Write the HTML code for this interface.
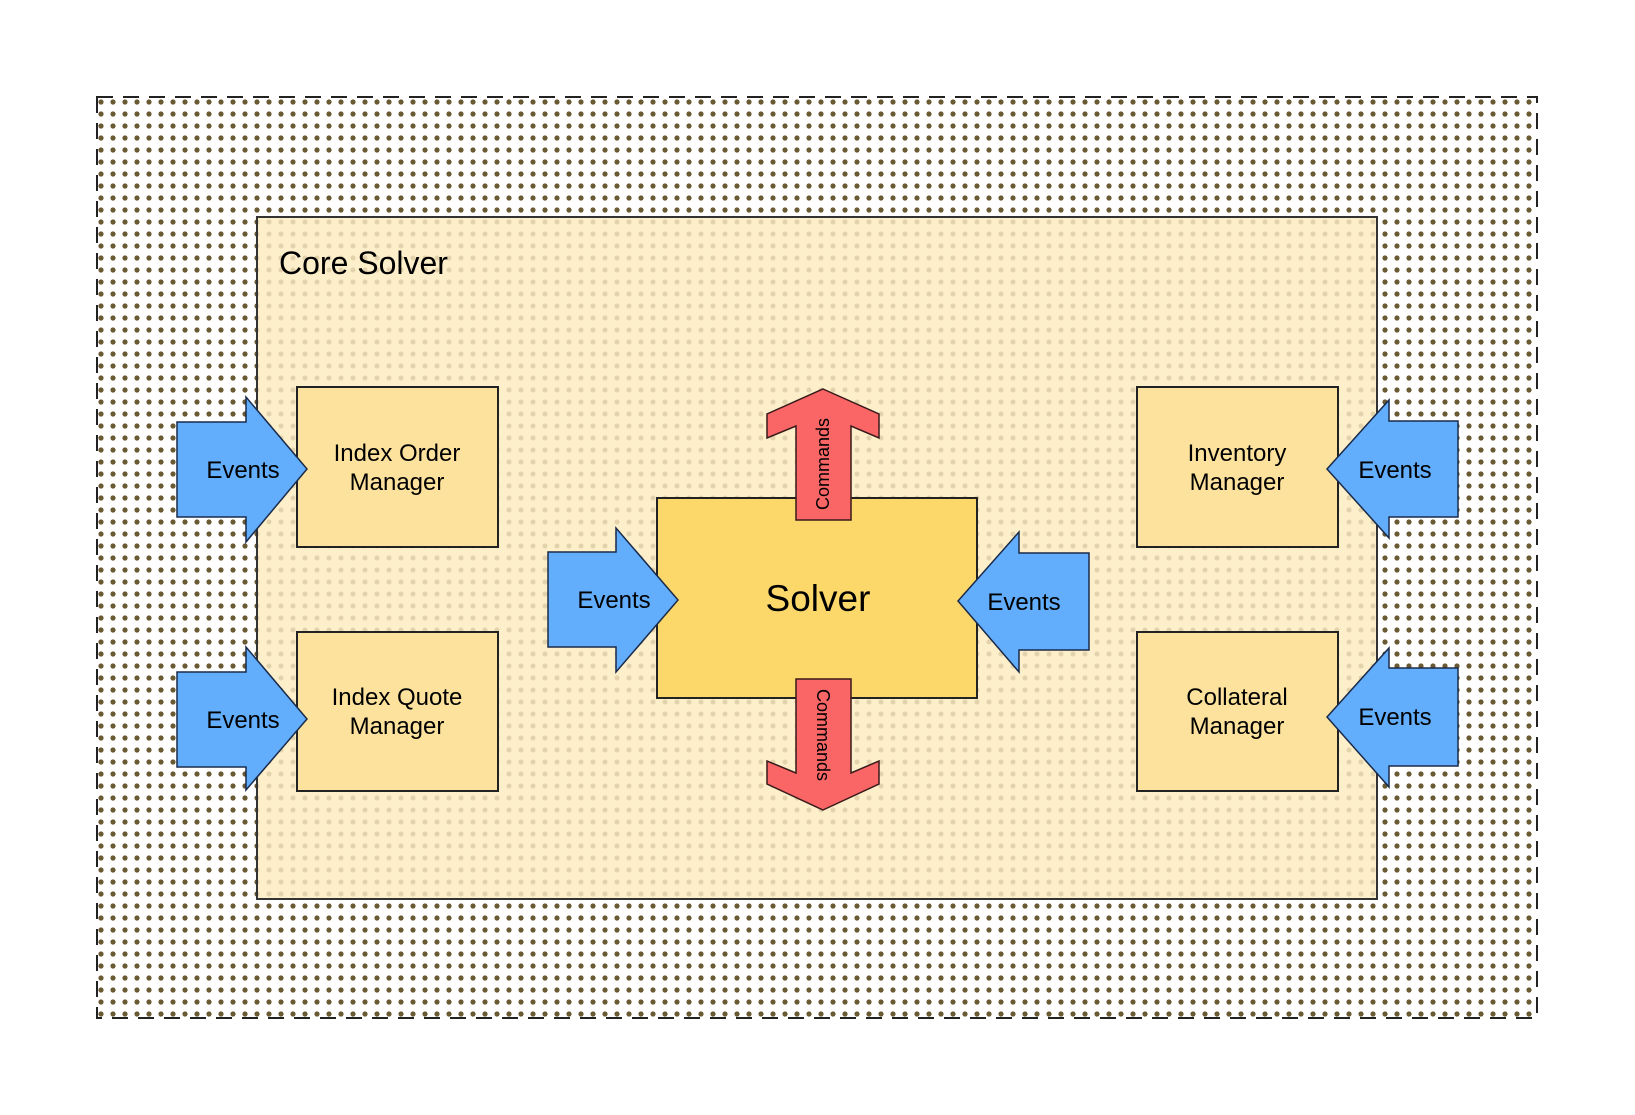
<!DOCTYPE html>
<html><head><meta charset="utf-8"><style>html,body{margin:0;padding:0;background:#fff}svg{display:block}text{font-family:"Liberation Sans",sans-serif;fill:#000}</style></head>
<body>
<svg width="1635" height="1115" viewBox="0 0 1635 1115" xmlns="http://www.w3.org/2000/svg">
<defs>
<pattern id="od" x="95" y="96" width="12" height="12" patternUnits="userSpaceOnUse"><rect width="12" height="12" fill="#fff"/><circle cx="6" cy="6" r="2.6" fill="#6a5933"/></pattern>
<pattern id="id" x="95" y="96" width="12" height="12" patternUnits="userSpaceOnUse"><rect width="12" height="12" fill="#fdefca"/><circle cx="6" cy="6" r="2.5" fill="#e2d3ac"/></pattern>
</defs>
<rect x="97" y="97" width="1440" height="921" fill="url(#od)" stroke="#222" stroke-width="2" stroke-dasharray="16,10"/>
<rect x="257" y="217" width="1120" height="682" fill="url(#id)" stroke="#333" stroke-width="2"/>
<text x="279" y="274" font-size="32">Core Solver</text>

<g stroke="#222" stroke-width="2">
<rect x="297" y="387" width="201" height="160" fill="#fce29c"/>
<rect x="297" y="632" width="201" height="159" fill="#fce29c"/>
<rect x="1137" y="387" width="201" height="160" fill="#fce29c"/>
<rect x="1137" y="632" width="201" height="159" fill="#fce29c"/>
<rect x="657" y="498" width="320" height="200" fill="#fcd76a"/>
</g>
<g stroke="#1a2a4a" stroke-width="1.5" fill="#62aefc">
<polygon points="177,422 246,422 246,397 307,469 246,542 246,517 177,517"/>
<polygon points="177,672 246,672 246,647 307,719 246,790 246,767 177,767"/>
<polygon points="548,552 616,552 616,528 678,600 616,672 616,647 548,647"/>
<polygon points="1089,553 1019,553 1019,532 958,601 1019,672 1019,650 1089,650"/>
<polygon points="1458,421 1389,421 1389,400 1327,469 1389,538 1389,517 1458,517"/>
<polygon points="1458,668 1389,668 1389,648 1327,717 1389,787 1389,766 1458,766"/>
</g>
<g stroke="#3a1a1a" stroke-width="1.5" fill="#fa6666">
<polygon points="823,389 879,414 879,438 851,426 851,520 796,520 796,426 767,438 767,414"/>
<polygon points="823,810 879,784 879,761 851,773 851,679 796,679 796,773 767,761 767,784"/>
</g>
<g font-size="24" text-anchor="middle">
<text x="397" y="461">Index Order</text><text x="397" y="490">Manager</text>
<text x="397" y="705">Index Quote</text><text x="397" y="734">Manager</text>
<text x="1237" y="461">Inventory</text><text x="1237" y="490">Manager</text>
<text x="1237" y="705">Collateral</text><text x="1237" y="734">Manager</text>
<text x="243" y="478">Events</text><text x="243" y="728">Events</text>
<text x="614" y="608">Events</text><text x="1024" y="610">Events</text>
<text x="1395" y="478">Events</text><text x="1395" y="725">Events</text>
</g>
<text x="818" y="611" font-size="37" text-anchor="middle">Solver</text>
<text font-size="18" text-anchor="middle" transform="translate(829,464) rotate(-90)">Commands</text>
<text font-size="18" text-anchor="middle" transform="translate(817,735) rotate(90)">Commands</text>
</svg>
</body></html>
